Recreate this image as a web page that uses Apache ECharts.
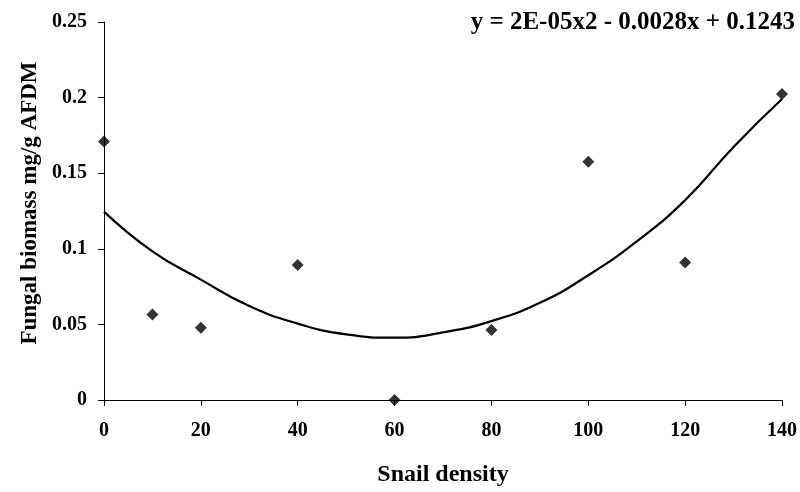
<!DOCTYPE html>
<html>
<head>
<meta charset="utf-8">
<script src="https://cdn.jsdelivr.net/npm/echarts@6/dist/echarts.min.js"></script>
<style>html,body{margin:0;padding:0;background:#fff}#c{width:800px;height:492px}</style>
</head>
<body>
<div id="c"></div>
<script>
// Observed data points
var snailDensity = [0, 10, 20, 40, 60, 80, 100, 120, 140];
var fungalBiomass = [0.171, 0.0566, 0.0478, 0.0893, 0, 0.0463, 0.1575, 0.091, 0.2024];
// Trend line
var trendX = [0, 10, 20, 30, 40, 50, 60, 70, 80, 90, 100, 110, 120, 130, 140];
var trendY = [0.1246, 0.0983, 0.0796, 0.0621, 0.0505, 0.0434, 0.0412, 0.0447, 0.0522, 0.0643, 0.0825, 0.1049, 0.1322, 0.1674, 0.1991];
var equationText = 'y = 2E-05x2 - 0.0028x + 0.1243';
var xName = 'Snail density';
var yName = 'Fungal biomass mg/g AFDM';

var FONT = "'Liberation Serif', 'Times New Roman', serif";
var chart = echarts.init(document.getElementById('c'), null, {renderer: 'canvas'});
var axisCommon = {
  axisLine: {show: true, onZero: false, lineStyle: {color: '#000', width: 1}},
  axisTick: {show: true, inside: false, length: 6, lineStyle: {color: '#000', width: 1}},
  splitLine: {show: false},
  nameLocation: 'middle'
};
chart.setOption({
  animation: false,
  backgroundColor: '#fff',
  grid: {left: 104, right: 17, top: 22, bottom: 89, containLabel: false},
  xAxis: Object.assign({}, axisCommon, {
    type: 'value', min: 0, max: 140, interval: 20,
    name: xName, nameGap: 63,
    nameTextStyle: {fontFamily: FONT, fontWeight: 'bold', fontSize: 24, color: '#000'},
    axisLabel: {fontFamily: FONT, fontWeight: 'bold', fontSize: 20, color: '#000', margin: 21}
  }),
  yAxis: Object.assign({}, axisCommon, {
    type: 'value', min: 0, max: 0.25, interval: 0.05,
    name: yName, nameGap: 62,
    nameTextStyle: {fontFamily: FONT, fontWeight: 'bold', fontSize: 23, color: '#000', padding: [0, 0, 0, 16]},
    axisLabel: {fontFamily: FONT, fontWeight: 'bold', fontSize: 20, color: '#000', margin: 17}
  }),
  graphic: [{
    type: 'text', right: 5, top: 10,
    style: {text: equationText, font: 'bold 25px ' + FONT, fill: '#000'}
  }],
  series: [{
    type: 'line',
    data: trendX.map(function (x, i) { return [x, trendY[i]]; }),
    showSymbol: false, smooth: true,
    lineStyle: {color: '#000', width: 2.2},
    z: 2
  }, {
    type: 'scatter',
    data: snailDensity.map(function (x, i) { return [x, fungalBiomass[i]]; }),
    symbol: 'diamond', symbolSize: 12,
    itemStyle: {color: '#000'},
    z: 3
  }]
});
</script>
</body>
</html>
